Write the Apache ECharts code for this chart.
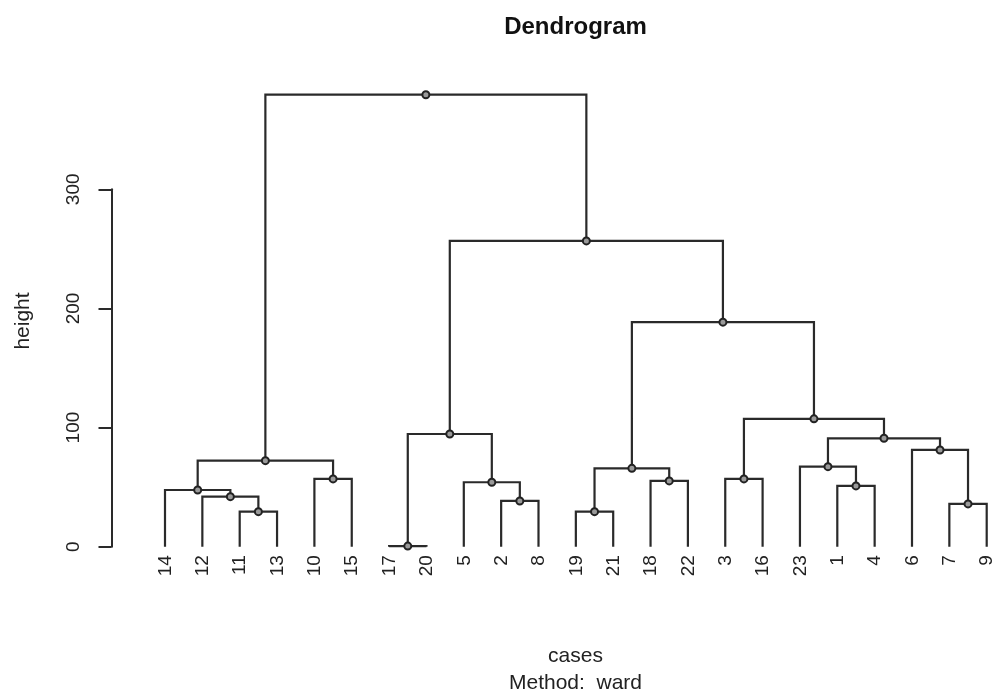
<!DOCTYPE html>
<html>
<head>
<meta charset="utf-8">
<script src="https://cdn.jsdelivr.net/npm/echarts@6/dist/echarts.min.js"></script>
<style>
html,body{margin:0;padding:0;background:#fff;}
#chart{width:992px;height:693px;}
</style>
</head>
<body>
<div id="chart"></div>
<script>
// Leaf order along the x axis (left to right)
const leafOrder = ['14','12','11','13','10','15','17','20','5','2','8','19','21','18','22','3','16','23','1','4','6','7','9'];
// R-style merge table: negative = leaf id, positive = earlier merge step (1-based)
const mergeLeft   = [-17, -11, -19, -7, -2, -12, -14, -1, -5, -18, -10, -3, 3, -23, 7, -6, 14, 1, 12, 13, 18, 15];
const mergeRight  = [-20, -13, -21, -9, -8,   2,   6, -4,  5, -22, -15, -16, 10, 8, 11, 4, 16, 9, 17, 19, 20, 21];
const mergeHeight = [0.5, 29.4, 29.4, 35.9, 38.4, 42.0, 47.6, 51.0, 54.1, 55.2, 56.9, 56.9, 65.8, 67.2, 72.2, 81.2, 91.0, 94.6, 107.3, 188.5, 256.7, 379.4];
const yTicks = [0, 100, 200, 300];

const FONT = '"Liberation Sans", Arial, Helvetica, sans-serif';
const LINE = '#2a2a2a';

// x position (leaf index units) and height of every node
const nodeX = [], nodeH = [];
function childPos(c) {
  if (c < 0) return [leafOrder.indexOf(String(-c)) + 1, 0];
  return [nodeX[c - 1], nodeH[c - 1]];
}
for (let i = 0; i < mergeHeight.length; i++) {
  const a = childPos(mergeLeft[i]), b = childPos(mergeRight[i]);
  nodeX.push((a[0] + b[0]) / 2);
  nodeH.push(mergeHeight[i]);
}

const mergeData = mergeHeight.map((h, i) => [nodeX[i], h, i]);
const leafData = leafOrder.map((lab, i) => [i + 1, 0, lab]);

const chart = echarts.init(document.getElementById('chart'));
chart.setOption({
  animation: false,
  backgroundColor: '#fff',
  grid: { left: 165, right: 5.3, top: 189.3, bottom: 146.3 },
  xAxis: { type: 'value', min: 1, max: 23, show: false },
  yAxis: {
    type: 'value', min: 0, max: 300, interval: 100, offset: 53.5,
    axisLine: { show: true, lineStyle: { color: LINE, width: 2 } },
    axisTick: { show: true, length: 13, lineStyle: { color: LINE, width: 2 } },
    splitLine: { show: false },
    axisLabel: { rotate: 90, margin: 28, fontSize: 19, color: '#222', fontFamily: FONT,
      formatter: v => (yTicks.indexOf(v) >= 0 ? String(v) : '') }
  },
  graphic: [
    { type: 'text', x: 575.5, y: 27, style: { text: 'Dendrogram', font: 'bold 24px ' + FONT, fill: '#111', align: 'center', verticalAlign: 'middle' } },
    { type: 'text', x: 575.5, y: 656, style: { text: 'cases', font: '21px ' + FONT, fill: '#222', align: 'center', verticalAlign: 'middle' } },
    { type: 'text', x: 575.5, y: 683, style: { text: 'Method:  ward', font: '21px ' + FONT, fill: '#222', align: 'center', verticalAlign: 'middle' } },
    { type: 'text', x: 23, y: 321, rotation: Math.PI / 2, style: { text: 'height', font: '21px ' + FONT, fill: '#222', align: 'center', verticalAlign: 'middle' } }
  ],
  series: [
    {
      type: 'custom',
      clip: false,
      data: mergeData,
      renderItem: function (params, api) {
        const i = api.value(2);
        const h = api.value(1);
        const a = childPos(mergeLeft[i]), b = childPos(mergeRight[i]);
        const pA = api.coord([a[0], h]), pB = api.coord([b[0], h]);
        const cA = api.coord([a[0], a[1]]), cB = api.coord([b[0], b[1]]);
        const pM = api.coord([api.value(0), h]);
        const ls = { stroke: LINE, lineWidth: 2.2, fill: null };
        return {
          type: 'group',
          children: [
            { type: 'polyline', shape: { points: [cA, pA, pB, cB] }, style: ls },
            { type: 'circle', shape: { cx: pM[0], cy: pM[1], r: 3.5 }, style: { stroke: '#222', lineWidth: 2, fill: '#9a9a9a' }, z2: 10 }
          ]
        };
      }
    },
    {
      type: 'custom',
      clip: false,
      data: leafData,
      renderItem: function (params, api) {
        const p = api.coord([api.value(0), 0]);
        return {
          type: 'text',
          x: p[0] + 0.5, y: p[1] + 8.5,
          rotation: Math.PI / 2,
          style: { text: leafOrder[params.dataIndex], font: '19px ' + FONT, fill: '#222', align: 'right', verticalAlign: 'middle' }
        };
      }
    }
  ]
});
</script>
</body>
</html>
